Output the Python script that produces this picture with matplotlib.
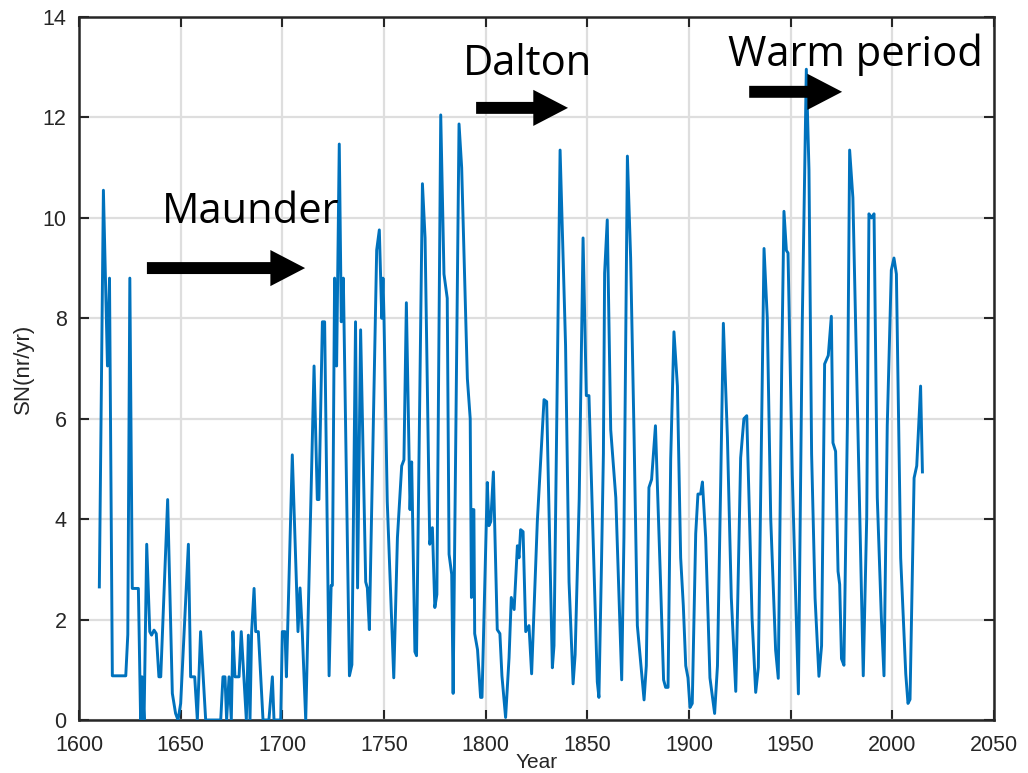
import numpy as np
import matplotlib
matplotlib.use('Agg')
import matplotlib.pyplot as plt

# yearly sunspot-number series (nr/yr), read per cycle
years = [1610.0, 1612.0, 1614.0, 1615.0, 1616.4, 1623.0, 1624.0, 1625.0, 1626.2, 1629.2,
         1630.3, 1631.0, 1632.0, 1633.3, 1634.8, 1635.7, 1636.9, 1638.0, 1639.3, 1640.2,
         1643.6, 1645.9, 1647.5, 1648.7, 1650.0, 1652.5, 1653.8, 1654.9, 1656.9, 1658.2,
         1659.8, 1662.3, 1669.7, 1670.8, 1671.8, 1672.6, 1673.8, 1674.9, 1675.7, 1676.7,
         1678.7, 1679.8, 1681.1, 1682.3, 1683.3, 1684.1, 1684.9, 1686.1, 1686.9, 1688.2,
         1690.5, 1693.4, 1695.1, 1695.9, 1699.2, 1700.0, 1701.3, 1702.0, 1704.9, 1707.7,
         1708.7, 1709.8, 1711.5, 1715.6, 1717.2, 1718.0, 1719.7, 1720.8, 1723.0, 1724.0,
         1724.6, 1725.7, 1726.7, 1728.0, 1729.0, 1730.0, 1733.0, 1734.2, 1736.0, 1737.0,
         1738.5, 1741.0, 1741.8, 1742.8, 1746.4, 1747.7, 1748.9, 1749.5, 1750.0, 1751.6,
         1754.8, 1756.6, 1758.7, 1759.8, 1761.0, 1762.8, 1763.6, 1765.2, 1766.0, 1768.9,
         1770.2, 1772.5, 1773.8, 1775.0, 1776.0, 1777.9, 1779.5, 1781.1, 1782.0, 1783.3,
         1784.0, 1786.9, 1788.2, 1791.0, 1792.4, 1793.0, 1793.6, 1794.2, 1794.6, 1796.0,
         1797.5, 1798.2, 1800.8, 1801.6, 1802.5, 1803.8, 1805.7, 1807.0, 1808.0, 1809.8,
         1811.5, 1812.6, 1814.0, 1815.6, 1816.4, 1817.2, 1818.4, 1819.7, 1821.3, 1822.6,
         1825.4, 1828.7, 1830.0, 1832.8, 1833.6, 1836.6, 1839.3, 1841.0, 1843.0, 1844.0,
         1846.0, 1847.9, 1849.5, 1850.8, 1854.9, 1855.7, 1857.0, 1857.9, 1858.5, 1859.8,
         1861.5, 1864.0, 1866.9, 1868.0, 1869.7, 1871.3, 1873.0, 1874.6, 1876.2, 1877.9,
         1879.0, 1880.3, 1881.6, 1883.5, 1885.8, 1887.5, 1888.5, 1889.7, 1891.0, 1892.6,
         1894.3, 1895.9, 1897.2, 1898.4, 1899.5, 1900.5, 1901.6, 1903.3, 1904.4, 1905.7,
         1906.6, 1908.2, 1910.3, 1912.6, 1914.0, 1915.6, 1916.9, 1918.9, 1920.8, 1923.0,
         1924.0, 1925.4, 1927.0, 1928.4, 1929.5, 1931.0, 1932.8, 1934.1, 1936.9, 1938.5,
         1940.2, 1942.6, 1943.9, 1945.6, 1946.7, 1947.9, 1948.7, 1950.8, 1953.8, 1955.7,
         1957.7, 1959.0, 1960.3, 1962.0, 1963.9, 1965.2, 1966.7, 1968.5, 1970.0, 1970.8,
         1972.1, 1973.3, 1974.1, 1975.0, 1976.2, 1977.9, 1979.0, 1980.6, 1985.7, 1987.4,
         1988.5, 1989.7, 1991.0, 1992.6, 1994.6, 1995.9, 1997.5, 1999.5, 2000.8, 2002.0,
         2004.1, 2006.6, 2007.7, 2008.7, 2010.7, 2012.0, 2013.9, 2014.8]
sn = [2.65, 10.55, 7.05, 8.8, 0.88, 0.88, 1.7, 8.8, 2.62, 2.62,
      0.0, 0.86, 0.0, 3.5, 1.76, 1.69, 1.79, 1.72, 0.86, 0.86,
      4.39, 0.53, 0.13, 0.0, 0.33, 2.39, 3.5, 0.86, 0.86, 0.0,
      1.76, 0.0, 0.0, 0.86, 0.86, 0.0, 0.86, 0.0, 1.76, 0.86,
      0.86, 1.76, 0.86, 0.0, 1.69, 0.0, 1.76, 2.62, 1.76, 1.76,
      0.0, 0.0, 0.86, 0.0, 0.0, 1.76, 1.76, 0.86, 5.28, 1.76,
      2.63, 1.76, 0.0, 7.05, 4.39, 4.39, 7.93, 7.93, 0.88, 2.68,
      2.68, 8.8, 7.05, 11.47, 7.93, 8.8, 0.88, 1.1, 7.93, 2.63,
      7.77, 2.75, 2.63, 1.8, 9.36, 9.76, 8.0, 8.8, 8.0, 4.35,
      0.84, 3.63, 5.06, 5.18, 8.31, 4.19, 5.14, 1.36, 1.28, 10.68,
      9.6, 3.5, 3.83, 2.24, 2.5, 12.05, 8.88, 8.4, 3.3, 2.9,
      0.53, 11.87, 11.0, 6.8, 6.0, 2.44, 4.19, 4.19, 1.72, 1.4,
      0.45, 0.45, 4.73, 3.87, 3.95, 4.94, 1.8, 1.72, 0.88, 0.05,
      1.24, 2.44, 2.2, 3.47, 3.23, 3.79, 3.75, 1.76, 1.88, 0.92,
      3.95, 6.38, 6.34, 1.04, 1.48, 11.35, 7.45, 2.75, 0.72, 1.3,
      4.4, 9.6, 6.46, 6.46, 0.76, 0.45, 3.2, 5.3, 8.9, 9.96,
      5.78, 4.43, 0.8, 3.63, 11.23, 9.2, 5.62, 1.88, 1.16, 0.4,
      1.08, 4.63, 4.79, 5.86, 3.0, 0.8, 0.65, 0.65, 5.2, 7.73,
      6.65, 3.23, 2.28, 1.08, 0.84, 0.25, 0.33, 3.71, 4.5, 4.5,
      4.74, 3.63, 0.84, 0.13, 1.08, 4.75, 7.9, 5.62, 2.44, 0.57,
      2.44, 5.22, 6.0, 6.06, 4.43, 2.04, 0.55, 1.05, 9.39, 8.0,
      4.0, 1.39, 0.83, 7.04, 10.13, 9.35, 9.3, 4.87, 0.52, 7.9,
      12.96, 10.96, 5.3, 2.43, 0.87, 1.48, 7.09, 7.26, 8.04, 5.52,
      5.35, 2.96, 2.7, 1.22, 1.09, 5.9, 11.35, 10.4, 0.88, 4.03,
      10.08, 10.0, 10.08, 4.43, 2.04, 0.88, 5.86, 8.96, 9.2, 8.88,
      3.23, 0.92, 0.33, 0.41, 4.82, 5.06, 6.65, 4.94]

xticks = np.arange(1600, 2051, 50)
yticks = np.arange(0, 15, 2)

# period labels: text, text anchor (year, SN), arrow start, arrow end
periods = ['Maunder', 'Dalton', 'Warm period']
text_pos = [(1640.8, 9.9), (1788.9, 12.85), (1919.2, 13.03)]
arrow_from = [(1633.4, 9.0), (1795.3, 12.19), (1929.6, 12.51)]
arrow_to = [(1711.2, 9.0), (1840.5, 12.19), (1975.3, 12.51)]

plt.rcParams['font.family'] = ['Liberation Sans', 'DejaVu Sans']

fig = plt.figure(figsize=(10.28, 7.73), dpi=100)
ax = fig.add_axes([79 / 1028, 1 - 720 / 773, (994 - 79) / 1028, (720 - 17) / 773])

ax.plot(years, sn, color='#0072BD', linewidth=2.1, zorder=3)

ax.set_xlim(1600, 2050)
ax.set_ylim(0, 14)
ax.set_xticks(xticks)
ax.set_yticks(yticks)
ax.grid(True, color='#dedede', linewidth=1.6)
ax.set_axisbelow(True)
ax.tick_params(direction='in', length=7, width=1.5, top=True, right=True,
               labelsize=15.5, colors='#262626')
ax.tick_params(axis='x', pad=11)
ax.tick_params(axis='y', pad=9)
for s in ax.spines.values():
    s.set_color('#262626')
    s.set_linewidth(1.8)

ax.set_xlabel('Year', fontsize=15, color='#262626', labelpad=-2)
ax.set_ylabel('SN(nr/yr)', fontsize=16, color='#262626', labelpad=6)

for name, tp, a0, a1 in zip(periods, text_pos, arrow_from, arrow_to):
    ax.text(tp[0], tp[1], name, fontsize=30, family='Open Sans', color='k',
            ha='left', va='baseline', zorder=5)
    ax.annotate('', xy=a1, xytext=a0,
                arrowprops=dict(width=8.6, headwidth=26, headlength=25,
                                color='k', linewidth=0, shrink=0),
                zorder=5)

fig.savefig('out.png', dpi=100)
